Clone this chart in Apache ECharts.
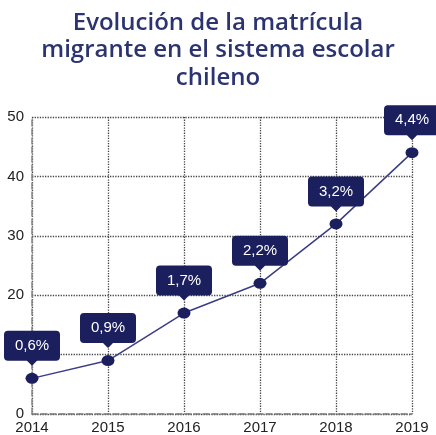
<!DOCTYPE html>
<html><head><meta charset="utf-8">
<script src="https://cdn.jsdelivr.net/npm/echarts@6/dist/echarts.min.js"></script>
<style>html,body{margin:0;padding:0;background:#fff}#c{width:436px;height:435px}</style>
</head><body><div id="c"></div>
<script>
var years = ['2014','2015','2016','2017','2018','2019'];
var values = [6, 9, 17, 22, 32, 44];
var pctLabels = ['0,6%','0,9%','1,7%','2,2%','3,2%','4,4%'];
var titleText = 'Evolución de la matrícula\nmigrante en el sistema escolar\nchileno';

var chart = echarts.init(document.getElementById('c'));
var navy = '#1b1f5e';
chart.setOption({
  animation: false,
  title: {
    text: titleText, left: 'center', top: 4,
    textStyle: { fontFamily: 'Open Sans', fontSize: 24, fontWeight: 600, color: '#2b3470', lineHeight: 27.5 }
  },
  grid: { left: 32, right: 24, top: 117, bottom: 21 },
  xAxis: {
    type: 'category', data: years, boundaryGap: false,
    axisLine: { lineStyle: { color: '#777', type: 'dashed', width: 1.5 } },
    axisTick: { show: false },
    axisLabel: { color: '#222', fontFamily: 'Liberation Sans', fontSize: 15, margin: 6 },
    splitLine: { show: true, lineStyle: { color: '#444', type: 'dotted', width: 1.3 } }
  },
  yAxis: {
    type: 'value', min: 0, max: 50, interval: 10,
    axisLine: { show: true, lineStyle: { color: '#888', type: 'dashed', width: 1.5 } },
    axisTick: { show: false },
    axisLabel: { color: '#222', fontFamily: 'Liberation Sans', fontSize: 15, margin: 8 },
    splitLine: { show: true, lineStyle: { color: '#444', type: 'dotted', width: 1.3 } }
  },
  series: [
    {
      type: 'line', data: values, symbol: 'circle', symbolSize: [13, 11],
      itemStyle: { color: navy },
      lineStyle: { color: '#3a3d85', width: 1.5 },
      z: 3
    },
    {
      type: 'scatter', data: values.map(function(v, i){ return { value: v, label: { formatter: pctLabels[i] } }; }),
      symbol: 'path://M4,0 H52 Q56,0 56,4 V26 Q56,30 52,30 H33 L28,35 L23,30 H4 Q0,30 0,26 V4 Q0,0 4,0 Z',
      symbolSize: [56, 35], symbolOffset: [0, -30],
      itemStyle: { color: navy, opacity: 1 },
      label: { show: true, position: 'inside', offset: [0, -2.5], color: '#fff', fontFamily: 'Liberation Sans', fontSize: 15 },
      z: 4
    }
  ]
});
</script></body></html>
